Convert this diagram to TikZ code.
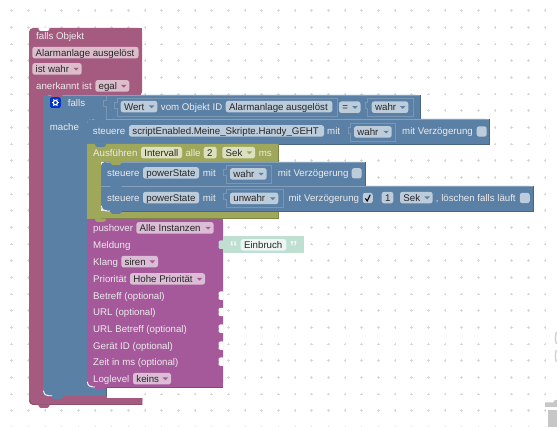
\documentclass[tikz,border=0pt]{standalone}
\usepackage{fontspec}
\setmainfont{Liberation Sans}
\definecolor{maroon}{HTML}{A55B80}
\definecolor{blu}{HTML}{5B80A5}
\definecolor{oliv}{HTML}{9FA85A}
\definecolor{purp}{HTML}{A5599A}
\definecolor{teal}{HTML}{BFDFD3}
\definecolor{fldmaroon}{HTML}{DBBDCC}
\definecolor{fldblue}{HTML}{BDCCDB}
\definecolor{fldoliv}{HTML}{DDE0BE}
\definecolor{fldpurp}{HTML}{DBBDD6}
\definecolor{fldteal}{HTML}{EDF6F2}
\definecolor{dots}{HTML}{D8D8D8}
\newcounter{nn}
\tikzset{
  lbl/.style={anchor=base west,inner sep=0pt,font=\fontsize{9.7}{11}\selectfont,text=white!92!black},
  fldtxt/.style={anchor=base west,inner sep=0pt,font=\fontsize{9.7}{11}\selectfont,text=black!85},
  sockline/.style={draw=blu!82!white,line width=0.6pt},
  whiteedge/.style={draw=white,line width=0.9pt,line cap=round}
}
\newcommand{\lab}[3]{\stepcounter{nn}\node[lbl,name=n\thenn] at (#1,#2+3.4) {#3};}
\newcommand{\fld}[5]{\stepcounter{nn}%
  \fill[#1,rounded corners=2.5pt] (#2,#4-5.9) rectangle (#3,#4+5.7);
  \node[fldtxt,name=n\thenn] at (#2+3.2,#4+3.4) {#5};}
\newcommand{\dd}[6]{\fld{#1}{#3}{#4}{#5}{#6}
  \fill[#2] (#4-8.4,#5-1.2) -- (#4-2.8,#5-1.2) -- (#4-5.6,#5+1.6) -- cycle;}
\newcommand{\tabb}[3]{\fill[#1,rounded corners=1pt] (#2-6,#3-0.4) -- (#2-4.5,#3+2.8) -- (#2+4.5,#3+2.8) -- (#2+6,#3-0.4) -- cycle;}
\newcommand{\sock}[4]{%
  \draw[sockline] (#1,#2+4) -- (#1,#2) -- (#3,#2) -- (#3,#4) -- (#1,#4) -- (#1,#2+10) -- (#1-2.5,#2+10) -- (#1-2.5,#2+4) -- cycle;}
\newcommand{\cbox}[2]{\fill[fldblue,rounded corners=2.5pt] (#1-5,#2-5.2) rectangle (#1+5,#2+5.2);}
\newcommand{\rsock}[1]{\fill[white,rounded corners=0.8pt] (223.5,#1-4.2) -- (219.5,#1-4.2) -- (218.2,#1-2) -- (219.2,#1) -- (218.2,#1+2) -- (219.5,#1+4.2) -- (223.5,#1+4.2) -- cycle;}
\begin{document}
\begin{tikzpicture}[x=1pt,y=-1pt]
\useasboundingbox (0,0) rectangle (557,427);
\fill[white] (0,0) rectangle (557,427);
% workspace grid
\foreach \i in {0,...,32}{\foreach \j in {0,...,25}{
  \pgfmathsetmacro{\gx}{11.67+16.667*\i}
  \pgfmathsetmacro{\gy}{10.67+16.667*\j}
  \draw[dots,line width=0.5pt] (\gx-1.2,\gy) -- (\gx+1.2,\gy) (\gx,\gy-1.2) -- (\gx,\gy+1.2);
}}
% trash can fragments
\draw[black!18,line width=1.4pt] (556.5,332) .. controls (555,336) and (555,340) .. (556.5,344);
\draw[black!18,line width=1.4pt] (556.5,350) .. controls (555,354) and (555,358) .. (556.5,362);
\fill[black!22] (545,402.5) -- (553,402.5) -- (555,400) -- (557,400) -- (557,407) -- (545,407) -- cycle;
\fill[black!22] (547.7,410) rectangle (557,427);
% maroon hat block
\fill[maroon,rounded corners=4pt] (29,28) -- (142,28) -- (142,96) -- (43,96) -- (43,394) -- (142,394) -- (142,405) -- (29,405) -- cycle;
\fill[maroon] (134,28) rectangle (142,40);
\fill[maroon] (134,394) rectangle (142,405);
\fill[white] (142,394) rectangle (142.2,398);
\fill[white] (107,389) rectangle (142.2,398);
\draw[maroon!80!black,line width=0.5pt] (29.3,400) .. controls (30,403) and (32,404.7) .. (35,404.7) -- (142,404.7) -- (142,398);
\fill[white,rounded corners=1pt] (38,27.5) -- (39.5,31) -- (48.5,31) -- (50,27.5) -- cycle;
\tabb{maroon}{44}{405}
\lab{36}{35.7}{falls Objekt}
\fld{fldmaroon}{32.3}{138.5}{52.7}{Alarmanlage ausgelöst}
\dd{fldmaroon}{maroon}{32.3}{81.7}{69}{ist wahr}
\lab{36}{86}{anerkannt ist}
\dd{fldmaroon}{maroon}{95.3}{129.3}{86}{egal}
% blue if block
\fill[blu,rounded corners=4pt] (43,95) -- (420,95) -- (420,119) -- (87,119) -- (87,387) -- (106.5,387) -- (106.5,396) -- (43,396) -- cycle;
\fill[blu] (412,95) rectangle (420,119);
\fill[blu] (100,387) rectangle (106.5,396);
\fill[blu] (87,115) rectangle (110,119);
\draw[blu!75!white,line width=0.5pt] (48,95.3) -- (420,95.3);
\draw[blu!80!black,line width=0.5pt] (420,95) -- (420,119);
\draw[blu!80!black,line width=0.5pt] (106.5,387) -- (106.5,395.7);
\tabb{maroon}{57}{95}
\tabb{blu}{57.5}{396}
\fill[blue!75!cyan!80!black,rounded corners=2pt] (50,97.2) rectangle (60.8,108);
\draw[white,line width=1.2pt] (55.4,102.6) circle (2.2);
\foreach \a in {0,60,...,300}{\draw[white,line width=1pt] (55.4,102.6) ++(\a:2.6) -- ++(\a:1.2);}
\lab{67.7}{103}{falls}
\lab{49.7}{126.7}{mache}
\draw[sockline] (106,95.5) -- (106,100) -- (103,100) -- (103,106) -- (106,106) -- (106,119);
\sock{117}{98}{337}{116}
\dd{fldblue}{blu}{120.7}{157.3}{106.7}{Wert}
\lab{160.7}{106.7}{vom Objekt ID}
\fld{fldblue}{225.7}{332.3}{106.7}{Alarmanlage ausgelöst}
\dd{fldblue}{blu}{339}{360.5}{107.3}{=}
\sock{367.5}{98}{413}{116}
\dd{fldblue}{blu}{371.7}{408.3}{107.3}{wahr}
\draw[whiteedge] (43.6,391) .. controls (44,394.5) and (46,395.8) .. (49,395.8) -- (52,395.8);
% steuere 1
\fill[blu,rounded corners=4pt] (87,119) -- (489.5,119) -- (489.5,144) -- (87,144) -- cycle;
\fill[blu] (480,119) rectangle (489.5,144);
\fill[blu] (87,140) rectangle (95,144);
\draw[blu!75!white,line width=0.5pt] (92,119.3) -- (489.5,119.3);
\draw[blu!80!black,line width=0.5pt] (489.5,119) -- (489.5,144) -- (95,144);
\tabb{blu}{100}{119}
\lab{92.7}{131}{steuere}
\fld{fldblue}{129}{324}{131}{scriptEnabled.Meine\_Skripte.Handy\_GEHT}
\lab{327}{131}{mit}
\sock{350.7}{123}{395.7}{141.7}
\dd{fldblue}{blu}{354}{391.7}{132}{wahr}
\lab{402}{131}{mit Verzögerung}
\cbox{481.7}{131.5}
% olive interval block
\fill[oliv] (87,144) -- (278,144) -- (278,162) -- (101,162) -- (101,211) -- (278,211) -- (278,219) -- (87,219) -- cycle;
\draw[oliv!80!black,line width=0.5pt] (278,144) -- (278,162);
\draw[oliv!80!black,line width=0.5pt] (101,218.7) -- (278,218.7) -- (278,211);
\tabb{blu}{100.5}{144}
\lab{93}{152.7}{Ausführen}
\fld{fldoliv}{141}{182}{152.7}{Intervall}
\lab{185.3}{152.7}{alle}
\fld{fldoliv}{203.7}{216.7}{152.7}{2}
\dd{fldoliv}{oliv}{222.3}{255}{152.7}{Sek}
\lab{258.7}{152.7}{ms}
% steuere 2
\fill[blu,rounded corners=4pt] (101,162) -- (365,162) -- (365,186) -- (101,186) -- cycle;
\fill[blu] (355,162) rectangle (365,186);
\fill[blu] (101,180) rectangle (110,186);
\draw[blu!75!white,line width=0.5pt] (106,162.3) -- (365,162.3);
\draw[blu!80!black,line width=0.5pt] (365,162) -- (365,186);
\tabb{oliv}{116}{162}
\lab{107}{173}{steuere}
\fld{fldblue}{143}{199}{173}{powerState}
\lab{202.7}{173}{mit}
\sock{226}{165}{271.7}{183.3}
\dd{fldblue}{blu}{230}{266.7}{174}{wahr}
\lab{277.7}{173}{mit Verzögerung}
\cbox{356.7}{173.3}
% steuere 3
\fill[blu,rounded corners=4pt] (101,186) -- (533,186) -- (533,211) -- (101,211) -- cycle;
\fill[blu] (525,186) rectangle (533,211);
\fill[blu] (101,186) rectangle (110,192);
\draw[blu!75!white,line width=0.5pt] (101,186.3) -- (533,186.3);
\draw[blu!80!black,line width=0.5pt] (533,186) -- (533,211) -- (110,211);
\draw[whiteedge] (101.4,206) .. controls (101.8,209.5) and (103.8,211) .. (107,211) -- (110,211);
\tabb{blu}{116}{186}
\tabb{blu}{116}{211}
\lab{107}{197.7}{steuere}
\fld{fldblue}{143}{199}{197.7}{powerState}
\lab{202.7}{197.7}{mit}
\sock{226}{189}{283}{207}
\dd{fldblue}{blu}{230}{278.3}{198.5}{unwahr}
\lab{288.3}{197.7}{mit Verzögerung}
\cbox{367.8}{198}
\draw[black,line width=1.1pt] (365.4,198.4) -- (367.2,201) -- (370.2,194.8);
\fld{fldblue}{381.7}{393.3}{197.7}{1}
\dd{fldblue}{blu}{400}{432.7}{197.7}{Sek}
\lab{435.7}{197.7}{, löschen falls läuft}
\cbox{524.8}{198}
% pushover block
\fill[purp,rounded corners=4pt] (87,219) -- (223,219) -- (223,387) -- (87,387) -- cycle;
\fill[purp] (215,219) rectangle (223,387);
\fill[purp] (87,219) rectangle (95,225);
\draw[purp!80!black,line width=0.5pt] (223,387) -- (95,387);
\draw[whiteedge] (87.4,382) .. controls (87.8,385.5) and (89.8,387) .. (93,387) -- (95,387);
\tabb{oliv}{100.5}{219}
\tabb{purp}{101}{387}
\lab{93}{228}{pushover}
\dd{fldpurp}{purp}{136.3}{213.7}{228}{Alle Instanzen}
\lab{93}{245}{Meldung}
\lab{93}{261.7}{Klang}
\dd{fldpurp}{purp}{121.3}{158}{261.7}{siren}
\lab{93}{279}{Priorität}
\dd{fldpurp}{purp}{130}{205}{279}{Hohe Priorität}
\lab{93}{295.7}{Betreff (optional)}
\rsock{295.7}
\lab{93}{312}{URL (optional)}
\rsock{312}
\lab{93}{328.7}{URL Betreff (optional)}
\rsock{328.7}
\lab{93}{345.7}{Gerät ID (optional)}
\rsock{345.7}
\lab{93}{361.7}{Zeit in ms (optional)}
\rsock{361.7}
\lab{93}{378.7}{Loglevel}
\dd{fldpurp}{purp}{133}{171}{378.7}{keins}
% text block
\fill[teal] (223,236) rectangle (304,253);
\fill[teal,rounded corners=0.8pt] (223.5,240.5) -- (219.5,240.5) -- (218.2,242.8) -- (219.2,244.5) -- (218.2,246.5) -- (219.5,249) -- (223.5,249) -- cycle;
\stepcounter{nn}\node[lbl,name=n\thenn,font=\bfseries\fontsize{16}{16}\selectfont,text=fldteal] at (229.3,253) {“};
\fld{fldteal}{240.7}{286.3}{245}{Einbruch}
\stepcounter{nn}\node[lbl,name=n\thenn,font=\bfseries\fontsize{16}{16}\selectfont,text=fldteal] at (289.5,253) {”};
\end{tikzpicture}
\end{document}
